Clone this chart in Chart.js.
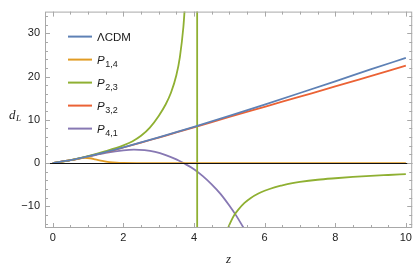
<!DOCTYPE html>
<html>
<head>
<meta charset="utf-8">
<script src="https://cdn.jsdelivr.net/npm/chart.js@4.4.1/dist/chart.umd.min.js"></script>
<style>
  html, body { margin: 0; padding: 0; background: #fff; }
</style>
</head>
<body>
<canvas id="chart" width="415" height="270"></canvas>
<script>
// values (d_L against z)
const zGrid = [0, 0.5, 1, 1.5, 2, 2.5, 3, 3.5, 4, 5, 6, 7, 8, 9, 10]
const dLcdm = [0, 0.66, 1.54, 2.53, 3.63, 4.76, 5.94, 7.15, 8.39, 10.93, 13.53, 16.19, 18.88, 21.63, 24.3]
const dP32 = [0, 0.66, 1.54, 2.52, 3.6, 4.72, 5.9, 7.07, 8.25, 10.65, 13.0, 15.35, 17.7, 20.1, 22.5]

const zP14 = [0, 0.25, 0.5, 0.75, 0.9, 1.05, 1.2, 1.4, 1.6, 1.8, 2, 2.5, 3, 4, 5, 6, 7, 8, 9, 10]
const dP14 = [0, 0.3, 0.66, 1.05, 1.2, 1.12, 0.88, 0.5, 0.22, 0.08, 0.03, 0.01, 0, 0, 0, 0, 0, 0, 0, 0]

const zP23 = [0, 0.5, 1, 1.5, 2, 2.25, 2.5, 2.75, 3, 3.2, 3.35, 3.5, 3.6, 3.7, 3.75, 4.089,
  4.091, 4.85, 4.96, 5.05, 5.15, 5.25, 5.43, 5.6, 5.81, 6, 6.28, 6.5, 6.75, 7, 7.5, 8, 8.5, 9, 9.5, 10]
const dP23 = [0, 0.67, 1.6, 2.75, 4.1, 5.0, 6.3, 8.2, 10.9, 13.6, 16.3, 20.3, 24.5, 31.5, 37, 60,
  -60, -17.9, -15.1, -13.4, -11.9, -10.8, -9.2, -8.1, -7.1, -6.4, -5.6, -5.15, -4.7, -4.36, -3.85, -3.5, -3.2, -2.95, -2.75, -2.56]

const zP41 = [0, 0.5, 1, 1.5, 2, 2.3, 2.6, 2.9, 3.2, 3.5, 3.7, 4, 4.25, 4.5, 4.75, 5, 5.2, 5.4]
const dP41 = [0, 0.66, 1.5, 2.35, 2.95, 3.1, 3.0, 2.6, 1.85, 0.85, 0, -1.4, -3.0, -4.9, -7.1, -9.8, -12.2, -14.9]

const xTicks = [0, 2, 4, 6, 8, 10]
const yTicks = [-10, 0, 10, 20, 30]
const names = [['ΛCDM', ''], ['P', '1,4'], ['P', '2,3'], ['P', '3,2'], ['P', '4,1']]
const colors = ['#5E81B5', '#E19C24', '#8FB032', '#EB6235', '#8778B3']

const xMinor = 0.5
const yMinor = 2
const sans = '"Liberation Sans", Arial, sans-serif'
const serif = '"Liberation Serif", "Times New Roman", serif'

function pts(xs, ys) {
  return xs.map((x, i) => ({ x: x, y: ys[i] }))
}

function series(i, xs, ys) {
  return {
    label: names[i].join(''),
    data: pts(xs, ys),
    borderColor: colors[i],
    borderWidth: 1.8,
    pointRadius: 0,
    fill: false,
    cubicInterpolationMode: 'monotone',
  }
}

// frame, inward ticks, zero axis, legend and axis titles (Mathematica look)
const framePlugin = {
  id: 'frame',
  afterDatasetsDraw(chart) {
    const ctx = chart.ctx
    const a = chart.chartArea
    const x = chart.scales.x
    const y = chart.scales.y
    ctx.save()

    // horizontal axis at d_L = 0, on top of the orange curve
    const y0 = Math.round(y.getPixelForValue(0)) + 0.5
    ctx.strokeStyle = '#111'
    ctx.lineWidth = 1
    ctx.beginPath()
    ctx.moveTo(a.left, y0)
    ctx.lineTo(a.right, y0)
    ctx.stroke()

    ctx.strokeStyle = '#a8a8a8'
    ctx.strokeRect(a.left + 0.5, a.top + 0.5, a.right - a.left - 1, a.bottom - a.top - 1)

    ctx.beginPath()
    for (let v = 0; v <= x.max; v += xMinor) {
      const len = v % 2 === 0 ? 5 : 3
      const px = Math.round(x.getPixelForValue(v)) + 0.5
      ctx.moveTo(px, a.bottom); ctx.lineTo(px, a.bottom - len)
      ctx.moveTo(px, a.top); ctx.lineTo(px, a.top + len)
    }
    for (let v = -14; v <= y.max; v += yMinor) {
      const len = v % 10 === 0 ? 5 : 3
      const py = Math.round(y.getPixelForValue(v)) + 0.5
      ctx.moveTo(a.left, py); ctx.lineTo(a.left + len, py)
      ctx.moveTo(a.right, py); ctx.lineTo(a.right - len, py)
    }
    ctx.stroke()

    // legend
    ctx.textBaseline = 'alphabetic'
    names.forEach((n, i) => {
      const ry = a.top + 25 + i * 23
      ctx.strokeStyle = colors[i]
      ctx.lineWidth = 2
      ctx.beginPath()
      ctx.moveTo(a.left + 23, ry)
      ctx.lineTo(a.left + 47, ry)
      ctx.stroke()
      ctx.fillStyle = '#1a1a1a'
      const tx = a.left + 52
      const base = ry + 4
      if (n[1] === '') {
        ctx.font = '11.5px ' + sans
        ctx.fillText(n[0], tx, base)
      } else {
        ctx.font = 'italic 11.5px ' + sans
        ctx.fillText(n[0], tx, base)
        const w = ctx.measureText(n[0]).width
        ctx.font = '9px ' + sans
        ctx.fillText(n[1], tx + w + 0.5, base + 3)
      }
    })

    // axis titles
    ctx.fillStyle = '#1a1a1a'
    ctx.font = 'italic 13px ' + serif
    ctx.fillText('d', 9, 119)
    ctx.font = 'italic 9px ' + serif
    ctx.fillText('L', 16, 121)
    ctx.font = 'italic 13px ' + serif
    ctx.textAlign = 'center'
    ctx.fillText('z', (a.left + a.right) / 2, 263)
    ctx.restore()
  },
}

const tickFont = { family: sans, size: 11 }

new Chart(document.getElementById('chart'), {
  type: 'line',
  data: {
    datasets: [
      series(0, zGrid, dLcdm),
      series(1, zP14, dP14),
      series(2, zP23, dP23),
      series(3, zGrid, dP32),
      series(4, zP41, dP41),
    ],
  },
  options: {
    responsive: false,
    animation: false,
    devicePixelRatio: 1,
    layout: { padding: { top: 1, right: 2, left: 0, bottom: 0 } },
    plugins: { legend: { display: false }, tooltip: { enabled: false } },
    scales: {
      x: {
        type: 'linear',
        min: -0.22,
        max: 10.18,
        grid: { display: false, drawTicks: false },
        border: { display: false },
        ticks: { font: tickFont, color: '#222', padding: 3, maxRotation: 0, autoSkip: false },
        afterBuildTicks: (s) => { s.ticks = xTicks.map((v) => ({ value: v })) },
        afterFit: (s) => { s.height = 42 },
      },
      y: {
        type: 'linear',
        min: -15,
        max: 35,
        grid: { display: false, drawTicks: false },
        border: { display: false },
        ticks: {
          font: tickFont,
          color: '#222',
          padding: 5,
          autoSkip: false,
          callback: (v) => String(v).replace('-', '\u2212'),
        },
        afterBuildTicks: (s) => { s.ticks = yTicks.map((v) => ({ value: v })) },
        afterFit: (s) => { s.width = 45 },
      },
    },
  },
  plugins: [framePlugin],
})
</script>
</body>
</html>
